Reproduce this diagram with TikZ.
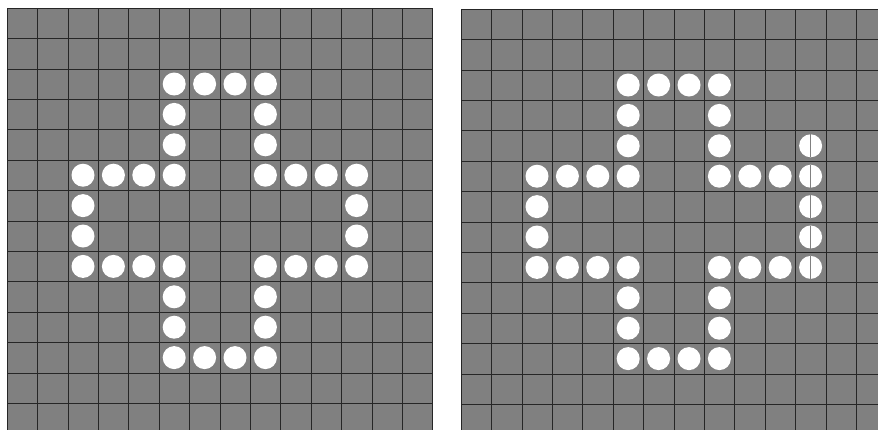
\documentclass[tikz,border=0pt]{standalone}
\usepackage{tikz}

\tikzset{
  board/.style={fill=gray},
  gridline/.style={black!85, line width=0.5pt},
  stone/.style={fill=white},
  cut/.style={draw=gray, line width=0.9pt},
}
% stones shared by both boards (column/row)
\newcommand{\ringstones}{5/2,6/2,7/2,8/2, 5/3,8/3, 5/4,8/4,
  2/5,3/5,4/5,5/5,8/5,9/5,10/5, 2/6, 2/7,
  2/8,3/8,4/8,5/8,8/8,9/8,10/8, 5/9,8/9, 5/10,8/10, 5/11,6/11,7/11,8/11}

\begin{document}
\begin{tikzpicture}[x=1pt,y=-1pt]
  \useasboundingbox (0,0) rectangle (878,429);
  \clip (0,0) rectangle (878,429);
  % left board
  \begin{scope}[shift={(7,8)}]
    \fill[board] (0,0) rectangle (425.6,425.6);
    \foreach \i in {0,...,14} {
      \draw[gridline] (\i*30.4,0) -- (\i*30.4,425.6);
      \draw[gridline] (0,\i*30.4) -- (425.6,\i*30.4);
    }
    \foreach \c/\r in \ringstones
      \fill[stone] ({(\c+0.5)*30.4},{(\r+0.5)*30.4}) circle (11.5);
    \foreach \r in {5,...,8}
      \fill[stone] ({11.5*30.4},{(\r+0.5)*30.4}) circle (11.5);
  \end{scope}
  % right board
  \begin{scope}[shift={(461,9)}]
    \fill[board] (0,0) rectangle (425.6,425.6);
    \foreach \i in {0,...,14} {
      \draw[gridline] (\i*30.4,0) -- (\i*30.4,425.6);
      \draw[gridline] (0,\i*30.4) -- (425.6,\i*30.4);
    }
    \foreach \c/\r in \ringstones
      \fill[stone] ({(\c+0.5)*30.4},{(\r+0.5)*30.4}) circle (11.5);
    \foreach \r in {4,...,8} { % split stones
      \fill[stone] ({11.5*30.4},{(\r+0.5)*30.4}) circle (11.5);
      \draw[cut] ({11.5*30.4},{(\r+0.5)*30.4-11.5}) -- ({11.5*30.4},{(\r+0.5)*30.4+11.5});
    }
  \end{scope}
\end{tikzpicture}
\end{document}
